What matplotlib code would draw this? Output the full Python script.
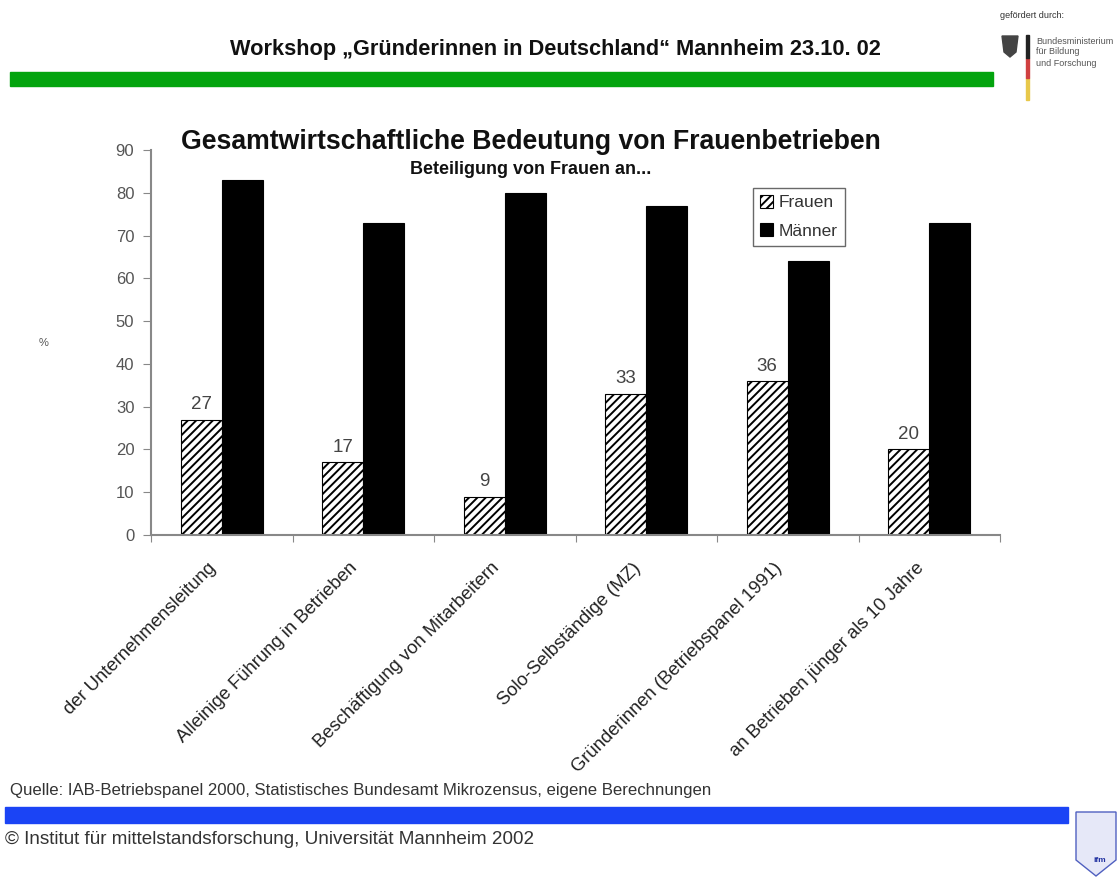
import matplotlib
matplotlib.use("Agg")
import matplotlib.pyplot as plt
from matplotlib.patches import Rectangle, Polygon
import numpy as np

plt.rcParams['font.family'] = ['Liberation Sans', 'DejaVu Sans']
plt.rcParams['hatch.linewidth'] = 1.4

categories = [
    "der Unternehmensleitung",
    "Alleinige Führung in Betrieben",
    "Beschäftigung von Mitarbeitern",
    "Solo-Selbständige (MZ)",
    "Gründerinnen (Betriebspanel 1991)",
    "an Betrieben jünger als 10 Jahre",
]
frauen = [27, 17, 9, 33, 36, 20]
maenner = [83, 73, 80, 77, 64, 73]
yticks = list(range(0, 100, 10))

header = "Workshop \u201eGründerinnen in Deutschland\u201c Mannheim 23.10. 02"
title = "Gesamtwirtschaftliche Bedeutung von Frauenbetrieben"
subtitle = "Beteiligung von Frauen an..."
source = "Quelle: IAB-Betriebspanel 2000, Statistisches Bundesamt Mikrozensus, eigene Berechnungen"
copyright_text = "\u00a9 Institut für mittelstandsforschung, Universität Mannheim 2002"

W, H = 1119, 881
fig = plt.figure(figsize=(W / 100, H / 100), dpi=100)

def fx(px):
    return px / W

def fy(py):
    return 1 - py / H

# header with green rule
fig.text(fx(555), fy(50), header, ha='center', va='center', fontsize=15.7,
         fontweight='bold', color='#111111')
fig.patches.append(Rectangle((fx(10), fy(86)), fx(983), 14 / H,
                             transform=fig.transFigure, color='#03A40E', zorder=1))

# sponsor block (top right)
fig.text(fx(1000), fy(15), "gefördert durch:", fontsize=6.5, color='#333333', va='center')
fig.patches.append(Rectangle((fx(1026), fy(100)), 3 / W, 22 / H, transform=fig.transFigure,
                             color='#E8C84A'))
fig.patches.append(Rectangle((fx(1026), fy(78)), 3 / W, 20 / H, transform=fig.transFigure,
                             color='#D04040'))
fig.patches.append(Rectangle((fx(1026), fy(58)), 3 / W, 23 / H, transform=fig.transFigure,
                             color='#222222'))
fig.patches.append(Polygon([(fx(1002), fy(36)), (fx(1018), fy(36)), (fx(1016), fy(52)),
                            (fx(1010), fy(57)), (fx(1004), fy(52))], closed=True,
                           transform=fig.transFigure, color='#444444'))
for i, t in enumerate(["Bundesministerium", "für Bildung", "und Forschung"]):
    fig.text(fx(1036), fy(41 + i * 11), t, fontsize=6.5, color='#555555', va='center')

# chart
ax = fig.add_axes([fx(151), fy(535), fx(849), 385 / H])
x = np.arange(len(categories))
bw = 0.29
ax.bar(x - bw / 2, frauen, bw, facecolor='white', edgecolor='black',
       hatch='////', linewidth=0.8, label='Frauen')
ax.bar(x + bw / 2, maenner, bw, color='black', edgecolor='black',
       linewidth=0.8, label='Männer')
for xi, v in zip(x - bw / 2, frauen):
    ax.text(xi, v + 1.5, str(v), ha='center', va='bottom', fontsize=13.5, color='#444444')

ax.set_xlim(-0.5, len(categories) - 0.5)
ax.set_ylim(0, 90)
ax.set_yticks(yticks)
ax.set_yticklabels([str(t) for t in yticks], fontsize=12, color='#555555')
# category boundaries carry the visible ticks; labels sit on invisible minor ticks
ax.set_xticks(np.arange(len(categories) + 1) - 0.5, minor=False)
ax.set_xticklabels([])
ax.set_xticks(x - 0.057, minor=True)
ax.set_xticklabels(categories, minor=True, rotation=45, ha='right', va='center',
                   rotation_mode='anchor', fontsize=13.3, color='#222222')
ax.tick_params(axis='x', which='minor', length=0, pad=22)
ax.tick_params(axis='x', which='major', length=5, color='#888888', direction='out')
ax.tick_params(axis='y', length=6, color='#888888', direction='out', pad=6)
for s in ['top', 'right']:
    ax.spines[s].set_visible(False)
for s in ['left', 'bottom']:
    ax.spines[s].set_color('#888888')
    ax.spines[s].set_linewidth(1.5)
ax.set_ylabel('%', fontsize=8, color='#555555', rotation=0, labelpad=52, va='center')

leg = ax.legend(loc='upper left', bbox_to_anchor=((753 - 151) / 849, (535 - 188) / 385),
                fontsize=12.5, frameon=True, fancybox=False, handlelength=0.75,
                handleheight=0.75, handletextpad=0.35, borderpad=0.4, labelspacing=0.75,
                borderaxespad=0)
leg.get_frame().set_edgecolor('#444444')
leg.get_frame().set_linewidth(1.0)
for t in leg.get_texts():
    t.set_color('#333333')

fig.text(fx(531), fy(142), title, ha='center', va='center', fontsize=19.2,
         fontweight='bold', color='#111111')
fig.text(fx(531), fy(170), subtitle, ha='center', va='center', fontsize=13,
         fontweight='bold', color='#111111')

# footer
fig.text(fx(10), fy(790), source, ha='left', va='center', fontsize=12.1, color='#333333')
fig.patches.append(Rectangle((fx(5), fy(823)), fx(1063), 16 / H,
                             transform=fig.transFigure, color='#1B44F5', zorder=1))
fig.text(fx(5), fy(840), copyright_text, ha='left', va='center', fontsize=13.6,
         color='#333333')

# university crest (bottom right)
crest = Polygon([(fx(1076), fy(812)), (fx(1116), fy(812)), (fx(1116), fy(860)),
                 (fx(1096), fy(876)), (fx(1076), fy(860))], closed=True,
                transform=fig.transFigure, facecolor='#E6E8F8', edgecolor='#5060C0',
                linewidth=1)
fig.patches.append(crest)
fig.text(fx(1100), fy(860), "ifm", fontsize=6, color='#2030A0', ha='center',
         va='center', fontweight='bold')

fig.savefig('out.png', dpi=100)
